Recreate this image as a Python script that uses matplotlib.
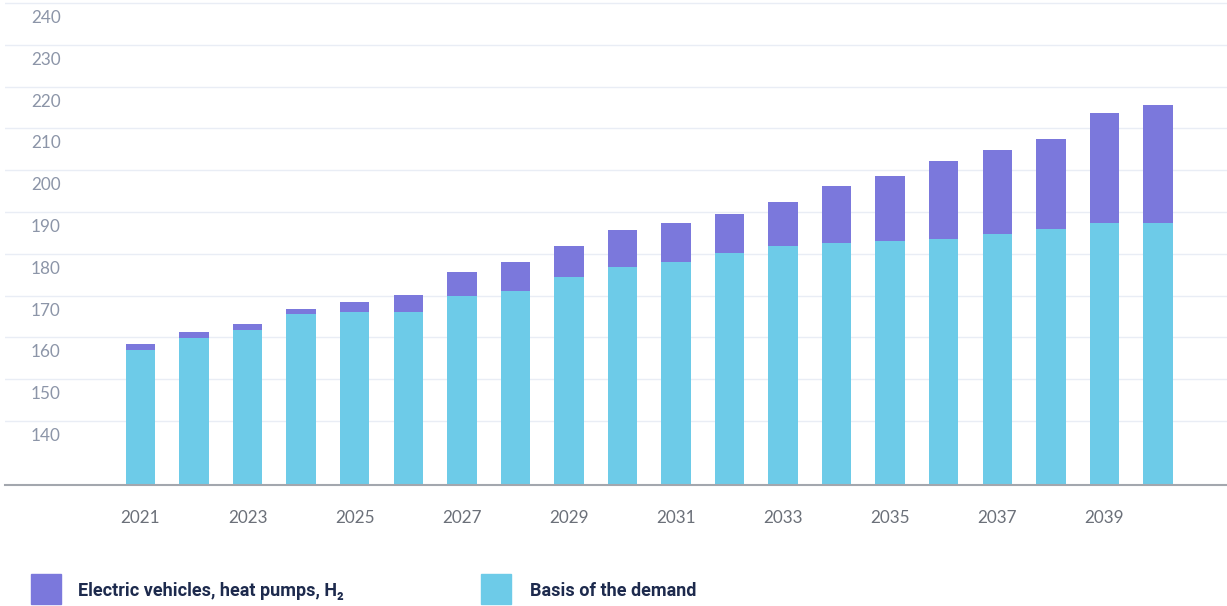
import matplotlib
matplotlib.use("Agg")
import matplotlib.pyplot as plt
from matplotlib.patches import Rectangle
import matplotlib.transforms as mtransforms

years = list(range(2021, 2041))
basis = [156.9, 159.8, 161.8, 165.5, 166.0, 166.0, 169.9, 171.2, 174.5, 176.8,
         178.0, 180.3, 181.9, 182.5, 183.0, 183.6, 184.7, 185.9, 187.3, 187.3]
total = [158.4, 161.3, 163.3, 166.9, 168.4, 170.1, 175.7, 178.0, 181.9, 185.6,
         187.5, 189.6, 192.4, 196.3, 198.6, 202.3, 204.8, 207.6, 213.6, 215.6]
extra = [t - b for t, b in zip(total, basis)]
ytick_values = [140, 150, 160, 170, 180, 190, 200, 210, 220, 230, 240]
xtick_years = [2021, 2023, 2025, 2027, 2029, 2031, 2033, 2035, 2037, 2039]
labels = ["Electric vehicles, heat pumps, H\u2082", "Basis of the demand"]

c_extra = "#7b78dc"
c_basis = "#6dcbe8"
c_tick = "#8c95a8"
c_year = "#6b7079"
c_legend = "#1d2a4d"

fig = plt.figure(figsize=(12.27, 6.06), dpi=100)
W, H = 1227, 606
ax = fig.add_axes([5 / W, 1 - 485 / H, 1222 / W, 484 / H])

ax.bar(years, basis, width=0.55, color=c_basis, zorder=3)
ax.bar(years, extra, bottom=basis, width=0.55, color=c_extra, zorder=3)

ax.set_xlim(2018.47, 2041.29)
ax.set_ylim(124.7, 240.5)

for v in ytick_values:
    ax.axhline(v, color="#e9edf5", lw=1.0, zorder=1)

ax.set_yticks([])
trans = mtransforms.blended_transform_factory(ax.transAxes, ax.transData)
off = mtransforms.ScaledTranslation(0, -15 / 100, fig.dpi_scale_trans)
for v in ytick_values:
    ax.text(26 / 1222, v, str(v), transform=trans + off, ha="left", va="center",
            fontsize=12.3, color=c_tick, family=["Lato", "DejaVu Sans"])

ax.set_xticks(xtick_years)
ax.set_xticklabels([str(y) for y in xtick_years], fontsize=12.3, color=c_year,
                   family=["Lato", "DejaVu Sans"])
ax.tick_params(axis="x", length=0, pad=18)

for s in ["top", "right", "left"]:
    ax.spines[s].set_visible(False)
ax.spines["bottom"].set_color("#a3a7ae")
ax.spines["bottom"].set_linewidth(1.5)
ax.spines["bottom"].set_zorder(4)

# legend
for (x0, col, lab, tx) in [(31, c_extra, labels[0], 78), (481, c_basis, labels[1], 530)]:
    fig.add_artist(Rectangle((x0 / W, 1 - 604 / H), 30 / W, 30 / H,
                             transform=fig.transFigure, color=col))
    fig.text(tx / W, 1 - 591 / H, lab, ha="left", va="center", fontsize=13,
             fontweight="bold", color=c_legend,
             family=["Liberation Sans Narrow", "Roboto", "DejaVu Sans"])

fig.savefig("out.png", dpi=100)
